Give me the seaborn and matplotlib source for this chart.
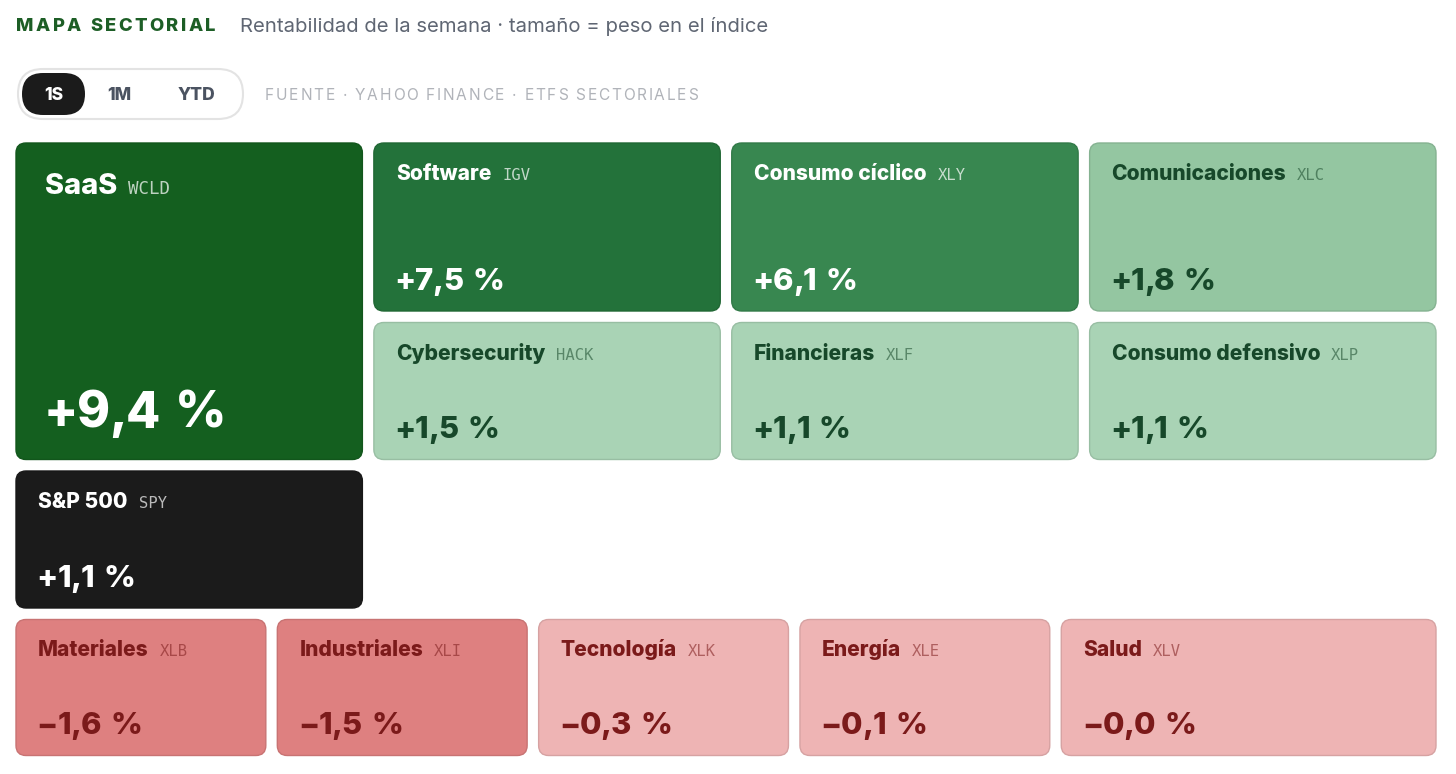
import numpy as np
import matplotlib
matplotlib.use("Agg")
import matplotlib.pyplot as plt
from matplotlib.patches import FancyBboxPatch
from matplotlib.font_manager import FontProperties
from matplotlib.colors import to_rgb
import seaborn as sns

# ---------------- data ----------------
sectors = ["SaaS", "Software", "Consumo cíclico", "Comunicaciones",
           "Cybersecurity", "Financieras", "Consumo defensivo", "S&P 500",
           "Materiales", "Industriales", "Tecnología", "Energía", "Salud"]
tickers = ["WCLD", "IGV", "XLY", "XLC", "HACK", "XLF", "XLP", "SPY",
           "XLB", "XLI", "XLK", "XLE", "XLV"]
returns_1s = [9.4, 7.5, 6.1, 1.8, 1.5, 1.1, 1.1, 1.1,
              -1.6, -1.5, -0.3, -0.1, -0.02]
benchmark = "SPY"
periods = ["1S", "1M", "YTD"]
active_period = "1S"
title = "MAPA SECTORIAL"
subtitle = "Rentabilidad de la semana · tamaño = peso en el índice"
source = "FUENTE · YAHOO FINANCE · ETFS SECTORIALES"

# colour scale (return bins -> colours)
bin_edges = [-1.0, 0.0, 1.6, 5.0, 7.0, 9.0]
bin_colors = ["#de8080", "#eeb4b4", "#a9d3b5", "#94c6a1",
              "#388750", "#23723a", "#145f1f"]
bin_text = ["#7b1a1a", "#7b1a1a", "#17482a", "#17482a",
            "white", "white", "white"]
bench_color = "#1b1b1b"

# ---------------- layout ----------------
W, H, DPI = 1456, 774, 100
grid_left, grid_right, grid_top = 16, 1436, 143
gap = 11.5
row_h = [168, 137, 137, 136]
top_cols = 4
top_cells = {"WCLD": (0, 0, 1, 2), "IGV": (1, 0, 1, 1), "XLY": (2, 0, 1, 1),
             "XLC": (3, 0, 1, 1), "HACK": (1, 1, 1, 1), "XLF": (2, 1, 1, 1),
             "XLP": (3, 1, 1, 1), "SPY": (0, 2, 1, 1)}
bottom_flex = {"XLB": 2, "XLI": 2, "XLK": 2, "XLE": 2, "XLV": 3}

sns.set_theme(style="white")
plt.rcParams["font.family"] = ["Inter", "DejaVu Sans"]
palette = sns.color_palette(bin_colors)

fig = plt.figure(figsize=(W / DPI, H / DPI), dpi=DPI)
fig.patch.set_facecolor("white")
ax = fig.add_axes([0, 0, 1, 1])
ax.set_xlim(0, W)
ax.set_ylim(H, 0)
ax.axis("off")
renderer = fig.canvas.get_renderer()

HEAVY = 800


def pt(px):
    return px * 72 / DPI


def fp(size_px, weight="normal", family=None):
    return FontProperties(family=family or ["Inter", "DejaVu Sans"],
                          weight=weight, size=pt(size_px))


MONO = ["DejaVu Sans Mono"]


def tw(s, prop):
    w, h, d = renderer.get_text_width_height_descent(s, prop, ismath=False)
    return w


def spaced(x, y, s, prop, spacing, color, space_extra=0.0):
    bar = tw("|", prop)
    extra = 0.0
    for i, ch in enumerate(s):
        if ch == " ":
            extra += space_extra
            continue
        off = (tw(s[:i] + "|", prop) - bar) if i > 0 else 0
        ax.text(x + off + i * spacing + extra, y, ch, fontproperties=prop,
                color=color, ha="left", va="baseline")


def darker(c, f=0.9):
    r, g, b = to_rgb(c)
    return (r * f, g * f, b * f)


def fmt(v):
    sign = "+" if v >= 0 else "\u2212"
    return f"{sign}{abs(v):.1f}".replace(".", ",") + " %"


def draw_tile(x, y, w, h, name, tk, val, big=False):
    if tk == benchmark:
        fc, tc = bench_color, "white"
        tkc = (1, 1, 1, 0.7)
    else:
        b = int(np.digitize(val, bin_edges))
        fc, tc = palette[b], bin_text[b]
        tkc = (*to_rgb(tc), 0.55) if tc != "white" else (1, 1, 1, 0.72)
    ax.add_patch(FancyBboxPatch((x, y), w, h,
                                boxstyle="round,pad=0,rounding_size=10",
                                fc=fc, ec=darker(fc, 0.9), lw=1.0))
    pad = 29 if big else 22
    lab_px = 29 if big else 21
    val_px = 50 if big else 31
    tk_px = 17.5 if big else 15.5
    lab_base = y + (51 if big else 37)
    val_base = y + h - (32 if big else 21)
    lp = fp(lab_px, HEAVY)
    ax.text(x + pad, lab_base, name, fontproperties=lp, color=tc,
            ha="left", va="baseline")
    ax.text(x + pad + tw(name, lp) + 11, lab_base, tk,
            fontproperties=fp(tk_px, "normal", MONO), color=tkc,
            ha="left", va="baseline")
    spaced(x + pad - 1.5, val_base, fmt(val), fp(val_px, HEAVY),
           -0.02 * val_px, tc, space_extra=0.12 * val_px)


# ---- grid geometry ----
total_w = grid_right - grid_left
col_w = (total_w - (top_cols - 1) * gap) / top_cols
row_y = [grid_top + sum(row_h[:i]) + i * gap for i in range(len(row_h))]

for name, tk, val in zip(sectors, tickers, returns_1s):
    if tk in top_cells:
        c, r, cs, rs = top_cells[tk]
        x = grid_left + c * (col_w + gap)
        w = cs * col_w + (cs - 1) * gap
        y = row_y[r]
        h = sum(row_h[r:r + rs]) + (rs - 1) * gap
        draw_tile(x, y, w, h, name, tk, val, big=(rs > 1))

flex_total = sum(bottom_flex.values())
unit = (total_w - (len(bottom_flex) - 1) * gap) / flex_total
xcur = grid_left
for name, tk, val in zip(sectors, tickers, returns_1s):
    if tk in bottom_flex:
        w = bottom_flex[tk] * unit
        draw_tile(xcur, row_y[3], w, row_h[3], name, tk, val)
        xcur += w + gap

# ---- header ----
spaced(16, 31, title, fp(18.5, HEAVY), 2.45, "#1d5e26")
ax.text(240, 31.5, subtitle, fontproperties=fp(20.3, "normal"), color="#5f6673",
        ha="left", va="baseline")

# ---- period toggle ----
ax.add_patch(FancyBboxPatch((18, 69), 225, 50,
                            boxstyle="round,pad=0,rounding_size=25",
                            fc="white", ec="#e3e3e3", lw=1.5))
ax.add_patch(FancyBboxPatch((22, 73), 63, 42,
                            boxstyle="round,pad=0,rounding_size=21",
                            fc="#1b1b1b", ec="none"))
toggle_centers = [53.5, 119, 196]
for p, cx in zip(periods, toggle_centers):
    ax.text(cx, 100.5, p, fontproperties=fp(17.5, HEAVY),
            color="white" if p == active_period else "#4b5361",
            ha="center", va="baseline")

spaced(265, 100.5, source, fp(15.5, "normal"), 1.75, "#b0b3b9")

fig.savefig("out.png", dpi=DPI, facecolor="white")
